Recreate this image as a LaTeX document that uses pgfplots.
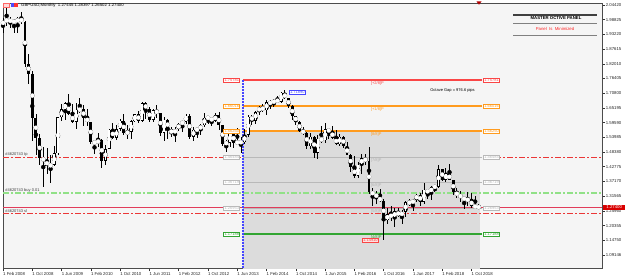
\documentclass[border=0pt]{standalone}
\usepackage{fontspec}
\setmainfont{Liberation Sans}
\usepackage{pgfplots}
\usepackage{pgfplotstable}
\pgfplotsset{compat=1.18}
\definecolor{bgc}{RGB}{245,245,245}
\definecolor{shade}{RGB}{220,220,220}
\definecolor{lvred}{RGB}{250,70,70}
\definecolor{lvorange}{RGB}{255,155,30}
\definecolor{lvgrey}{RGB}{185,185,185}
\definecolor{lvgreen}{RGB}{50,165,50}
\definecolor{tpred}{RGB}{235,55,55}
\definecolor{buygreen}{RGB}{145,225,135}
\definecolor{bidred}{RGB}{225,60,90}
\definecolor{blueline}{RGB}{70,70,255}
\newcommand\tf{\fontsize{4.3}{5}\selectfont}
\newcommand\smf{\fontsize{4.0}{4.6}\selectfont}

\pgfplotstableread{
m o h l c
0 1.9660 1.9935 1.9365 1.9865
1 1.9865 2.0397 1.9660 1.9845
2 1.9845 1.9985 1.9555 1.9830
3 1.9830 1.9920 1.9360 1.9790
4 1.9790 1.9975 1.9360 1.9930
5 1.9930 2.0160 1.9700 1.9805
6 1.9805 1.9820 1.8070 1.8200
7 1.8200 1.8570 1.7450 1.7830
8 1.7830 1.7920 1.5260 1.6150
9 1.6150 1.6280 1.4710 1.5380
10 1.5380 1.5540 1.4360 1.4620
11 1.4620 1.5030 1.3500 1.4500
12 1.4500 1.4980 1.3990 1.4320
13 1.4320 1.4740 1.3650 1.4340
14 1.4340 1.5050 1.4290 1.4790
15 1.4790 1.6170 1.4730 1.6160
16 1.6160 1.6660 1.6030 1.6460
17 1.6460 1.6740 1.6050 1.6700
18 1.6700 1.7040 1.6260 1.6270
19 1.6270 1.6660 1.5930 1.5990
20 1.5990 1.6700 1.5700 1.6450
21 1.6450 1.6880 1.6310 1.6460
22 1.6460 1.6640 1.5820 1.6150
23 1.6150 1.6460 1.5830 1.5980
24 1.5980 1.6000 1.5150 1.5230
25 1.5230 1.5250 1.4780 1.5180
26 1.5180 1.5580 1.5030 1.5300
27 1.5300 1.5340 1.4230 1.4510
28 1.4510 1.5110 1.4350 1.4960
29 1.4960 1.5700 1.4960 1.5690
30 1.5690 1.5960 1.5340 1.5370
31 1.5370 1.5880 1.5290 1.5720
32 1.5720 1.6100 1.5650 1.6030
33 1.6030 1.6300 1.5500 1.5560
34 1.5560 1.5850 1.5350 1.5600
35 1.5600 1.6060 1.5350 1.6010
36 1.6010 1.6280 1.5970 1.6270
37 1.6270 1.6400 1.5940 1.6030
38 1.6030 1.6750 1.6000 1.6690
39 1.6690 1.6740 1.6090 1.6460
40 1.6460 1.6550 1.5990 1.6060
41 1.6060 1.6480 1.5970 1.6430
42 1.6430 1.6620 1.6140 1.6310
43 1.6310 1.6340 1.5450 1.5580
44 1.5580 1.6160 1.5270 1.6070
45 1.6070 1.6110 1.5330 1.5700
46 1.5700 1.5780 1.5400 1.5540
47 1.5540 1.5810 1.5230 1.5710
48 1.5710 1.5940 1.5650 1.5910
49 1.5910 1.6040 1.5600 1.5990
50 1.5990 1.6300 1.5900 1.6230
51 1.6230 1.6300 1.5330 1.5410
52 1.5410 1.5780 1.5270 1.5690
53 1.5690 1.5750 1.5380 1.5690
54 1.5690 1.5910 1.5500 1.5860
55 1.5860 1.6310 1.5790 1.6150
56 1.6150 1.6170 1.5900 1.6130
57 1.6130 1.6140 1.5830 1.6030
58 1.6030 1.6310 1.6000 1.6250
59 1.6250 1.6380 1.5680 1.5860
60 1.5860 1.5870 1.5080 1.5150
61 1.5150 1.5290 1.4830 1.5200
62 1.5200 1.5600 1.5030 1.5540
63 1.5540 1.5600 1.5000 1.5190
64 1.5190 1.5750 1.5100 1.5210
65 1.5210 1.5430 1.4810 1.5210
66 1.5210 1.5720 1.5130 1.5490
67 1.5490 1.6260 1.5420 1.6190
68 1.6190 1.6260 1.5880 1.6040
69 1.6040 1.6400 1.5890 1.6370
70 1.6370 1.6600 1.6260 1.6560
71 1.6560 1.6670 1.6350 1.6430
72 1.6430 1.6820 1.6250 1.6750
73 1.6750 1.6820 1.6470 1.6670
74 1.6670 1.6850 1.6540 1.6840
75 1.6840 1.6990 1.6700 1.6750
76 1.6750 1.7110 1.6690 1.7100
77 1.7100 1.7190 1.6860 1.6880
78 1.6880 1.6890 1.6520 1.6590
79 1.6590 1.6640 1.6050 1.6210
80 1.6210 1.6230 1.5870 1.5990
81 1.5990 1.6030 1.5590 1.5640
82 1.5640 1.5780 1.5470 1.5580
83 1.5580 1.5590 1.4950 1.5060
84 1.5060 1.5550 1.4950 1.5430
85 1.5430 1.5450 1.4630 1.4820
86 1.4820 1.5500 1.4570 1.5350
87 1.5350 1.5820 1.5170 1.5280
88 1.5280 1.5930 1.5170 1.5710
89 1.5710 1.5720 1.5330 1.5610
90 1.5610 1.5820 1.5330 1.5390
91 1.5390 1.5660 1.5100 1.5130
92 1.5130 1.5510 1.5060 1.5430
93 1.5430 1.5440 1.4990 1.5050
94 1.5050 1.5230 1.4730 1.4740
95 1.4740 1.4770 1.4080 1.4250
96 1.4250 1.4670 1.3830 1.3920
97 1.3920 1.4460 1.3840 1.4360
98 1.4360 1.4770 1.4010 1.4610
99 1.4610 1.4770 1.4330 1.4480
100 1.4480 1.5020 1.3230 1.3310
101 1.3310 1.3480 1.2800 1.3230
102 1.3230 1.3370 1.2860 1.3120
103 1.3120 1.3440 1.2920 1.2970
104 1.2970 1.3060 1.1491 1.2230
105 1.2230 1.2710 1.2080 1.2480
106 1.2480 1.2780 1.2200 1.2340
107 1.2340 1.2710 1.1980 1.2580
108 1.2580 1.2710 1.2350 1.2410
109 1.2410 1.2620 1.2110 1.2550
110 1.2550 1.2960 1.2360 1.2940
111 1.2940 1.3050 1.2770 1.2880
112 1.2880 1.3030 1.2590 1.3020
113 1.3020 1.3230 1.2930 1.3210
114 1.3210 1.3270 1.2770 1.2930
115 1.2930 1.3650 1.2840 1.3400
116 1.3400 1.3410 1.3030 1.3280
117 1.3280 1.3550 1.3020 1.3510
118 1.3510 1.3550 1.3300 1.3510
119 1.3510 1.4350 1.3450 1.4190
120 1.4190 1.4200 1.3720 1.3770
121 1.3770 1.4240 1.3710 1.4020
122 1.4020 1.4380 1.3760 1.3770
123 1.3770 1.3780 1.3200 1.3300
124 1.3300 1.3470 1.3100 1.3200
125 1.3200 1.3360 1.2950 1.3120
126 1.3120 1.3130 1.2660 1.3010
127 1.3010 1.3300 1.2790 1.3030
128 1.3030 1.3260 1.2700 1.2770
129 1.2770 1.3180 1.2720 1.2750
130 1.27445 1.28397 1.26502 1.27400
}\ohlc

\begin{document}
\begin{tikzpicture}[x=1pt,y=1pt]
\fill[white] (0,0) rectangle (625,278);
\begin{axis}[
  at={(3pt,9.5pt)}, anchor=south west,
  scale only axis, width=599pt, height=265.5pt,
  xmin=0, xmax=163.66, ymin=1.0400, ymax=2.0518,
  axis background/.style={fill=bgc},
  axis line style={draw=black!70, line width=0.8pt},
  clip mode=individual,
  xtick={0,8,...,128},
  xticklabels={1 Feb 2008,1 Oct 2008,1 Jun 2009,1 Feb 2010,1 Oct 2010,1 Jun 2011,1 Feb 2012,1 Oct 2012,1 Jun 2013,1 Feb 2014,1 Oct 2014,1 Jun 2015,1 Feb 2016,1 Oct 2016,1 Jun 2017,1 Feb 2018,1 Oct 2018},
  ytick={2.04420,1.98825,1.93220,1.87615,1.82010,1.76405,1.70800,1.65195,1.59590,1.53985,1.48380,1.42775,1.37170,1.31565,1.25960,1.20355,1.14750,1.09146},
  yticklabels={2.04420,1.98825,1.93220,1.87615,1.82010,1.76405,1.70800,1.65195,1.59590,1.53985,1.48380,1.42775,1.37170,1.31565,1.25960,1.20355,1.14750,1.09146},
  xtick pos=left, ytick pos=right,
  tick align=outside, major tick length=3pt,
  tick style={black!80, line width=0.5pt},
  ticklabel style={font=\tf, text=black!85},
  xticklabel style={anchor=north west, inner sep=0.6pt, xshift=-0.6pt},
  yticklabel style={anchor=west, inner sep=0.6pt},
]
% shaded octave box
\addplot[fill=shade, draw=none, forget plot] coordinates {(65.573,1.5625) (130.3,1.5625) (130.3,1.0) (65.573,1.0) (65.573,1.5625)};

% trade lines (tp, buy, sl)
\addplot[tpred, line width=1.0pt, dash pattern=on 6pt off 2pt on 2pt off 2pt, forget plot] coordinates {(0,1.46302) (163.66,1.46302)};
\addplot[buygreen, line width=2.0pt, dash pattern=on 6pt off 2pt on 2pt off 2pt, forget plot] coordinates {(0,1.32773) (163.66,1.32773)};
\addplot[tpred, line width=1.0pt, dash pattern=on 6pt off 2pt on 2pt off 2pt, forget plot] coordinates {(0,1.24960) (163.66,1.24960)};

% octave levels
\addplot[lvred, line width=2pt, forget plot] coordinates {(65.573,1.75837) (131,1.75837)};
\addplot[lvorange, line width=2pt, forget plot] coordinates {(65.573,1.65928) (131,1.65928)};
\addplot[lvorange, line width=2pt, forget plot] coordinates {(65.573,1.56401) (131,1.56401)};
\addplot[lvgrey, line width=1pt, forget plot] coordinates {(65.573,1.46302) (131,1.46302)};
\addplot[lvgrey, line width=1pt, forget plot] coordinates {(65.573,1.36774) (131,1.36774)};
\addplot[lvgrey, line width=1pt, forget plot] coordinates {(65.573,1.26866) (131,1.26866)};
\addplot[lvgreen, line width=2pt, forget plot] coordinates {(65.573,1.17148) (131,1.17148)};

% bid line
\addplot[bidred, line width=1.0pt, forget plot] coordinates {(0,1.27247) (163.66,1.27247)};

% blue vertical
\addplot[blueline, line width=2pt, dash pattern=on 2pt off 1pt, forget plot] coordinates {(65.573,1.75837) (65.573,1.03)};

% candles: wicks
\addplot[color=black, only marks, mark=none, forget plot,
  error bars/.cd, y dir=both, y explicit, error mark=none,
  error bar style={draw=black, line width=0.8pt, line cap=butt}]
  table[x=m, y expr={(\thisrow{h}+\thisrow{l})/2}, y error expr={(\thisrow{h}-\thisrow{l})/2}] {\ohlc};
% bodies
\addplot[color=black, only marks, mark=none, forget plot,
  error bars/.cd, y dir=both, y explicit, error mark=none,
  error bar style={draw=black, line width=2.9pt, line cap=butt}]
  table[x=m, y expr={(\thisrow{o}+\thisrow{c})/2}, y error expr={max(abs(\thisrow{c}-\thisrow{o})/2,0.0016)}] {\ohlc};
\addplot[color=white, only marks, mark=none, forget plot,
  error bars/.cd, y dir=both, y explicit, error mark=none,
  error bar style={color=white, draw=white, line width=1.5pt, line cap=butt}]
  table[x=m, y expr={(\thisrow{o}+\thisrow{c})/2}, y error expr={max((\thisrow{c}-\thisrow{o})/2-0.0027,0)}] {\ohlc};

% level labels
\tikzset{lb/.style={font=\smf, inner sep=0.5pt, fill=white, line width=0.6pt, minimum width=16pt}}
\node[lb, draw=lvred, text=lvred] at (axis cs:62.5,1.75837) {1.75781};
\node[lb, draw=lvred, text=lvred] at (axis cs:133.5,1.75837) {1.75781};
\node[lb, draw=lvorange, text=lvorange] at (axis cs:62.5,1.65928) {1.66016};
\node[lb, draw=lvorange, text=lvorange] at (axis cs:133.5,1.65928) {1.66016};
\node[lb, draw=lvorange, text=lvorange] at (axis cs:62.5,1.56401) {1.56250};
\node[lb, draw=lvorange, text=lvorange] at (axis cs:133.5,1.56401) {1.56250};
\node[lb, draw=lvgrey, text=lvgrey] at (axis cs:62.5,1.46302) {1.46484};
\node[lb, draw=lvgrey, text=lvgrey] at (axis cs:133.5,1.46302) {1.46484};
\node[lb, draw=lvgrey, text=lvgrey] at (axis cs:62.5,1.36774) {1.36719};
\node[lb, draw=lvgrey, text=lvgrey] at (axis cs:133.5,1.36774) {1.36719};
\node[lb, draw=lvgrey, text=lvgrey] at (axis cs:62.5,1.26866) {1.26953};
\node[lb, draw=lvgrey, text=lvgrey] at (axis cs:133.5,1.26866) {1.26953};
\node[lb, draw=lvgreen, text=lvgreen] at (axis cs:62.5,1.17148) {1.17188};
\node[lb, draw=lvgreen, text=lvgreen] at (axis cs:133.5,1.17148) {1.17188};

\tikzset{pl/.style={font=\smf, inner sep=0.3pt, anchor=north west}}
\node[pl, text=lvred] at (axis cs:100.4,1.7540) {[+2/8]P};
\node[pl, text=lvorange] at (axis cs:100.4,1.6555) {[+1/8]P};
\node[pl, text=lvorange] at (axis cs:100.4,1.5600) {[8/8]P};
\node[pl, text=black!30] at (axis cs:100.4,1.4600) {[7/8]P};
\node[pl, text=black!30] at (axis cs:100.4,1.3645) {[6/8]P};
\node[pl, text=black!30] at (axis cs:100.4,1.2655) {[5/8]P};
\node[pl, text=lvgreen] at (axis cs:100.4,1.1675) {[4/8]P};

\node[font=\smf, text=black, anchor=west, inner sep=0pt] at (axis cs:116.7,1.7198) {Octave Gap = 976.6 pips};
\node[lb, draw=blueline, text=blueline] at (axis cs:80.4,1.7126) {1.71890};
\node[lb, draw=lvred, text=lvred, fill=lvred!15] at (axis cs:100.4,1.1486) {1.14910};

\tikzset{tl/.style={font=\smf, text=black!75, anchor=south west, inner sep=0.3pt}}
\node[tl] at (axis cs:0.5,1.4650) {\#4620743 tp};
\node[tl] at (axis cs:0.5,1.3300) {\#4620743 buy 0.01};
\node[tl] at (axis cs:0.5,1.2515) {\#4620743 sl};
\end{axis}

% header
\draw[red!60, fill=red!15, line width=0.4pt] (3.5,270.5) rectangle (9.5,275);
\fill[blue!70] (10.5,270.5) rectangle (14,275);
\fill[red!80] (14,270.5) rectangle (17.5,275);
\node[font=\tf, anchor=west, inner sep=0pt, text=black] at (21,272.3) {GBPUSD,Monthly\ \ 1.27445 1.28397 1.26502 1.27400};

% panel
\draw[black!75, line width=1.3pt] (513,263) -- (597,263);
\node[font=\bfseries\fontsize{4.3}{5}\selectfont, inner sep=0pt] at (556,259.5) {MASTER OCTIVE PANEL};
\draw[black!50, line width=0.8pt] (513,254.7) -- (597,254.7);
\node[font=\tf, text=red!85, inner sep=0pt] at (555,249) {Panel\ \ Is\ \ Minimized};
\draw[black!50, line width=0.8pt] (513,243) -- (597,243);

% shift marker
\fill[red!70!black] (476.5,276.5) -- (481.5,276.5) -- (479,273.3) -- cycle;

% bid box
\node[font=\tf, fill=red!85!black, text=white, inner sep=0.6pt, minimum width=22pt, anchor=west] at (603,70.5) {1.27400};

\pgfresetboundingbox
\useasboundingbox (0,0) rectangle (625,278);
\end{tikzpicture}
\end{document}
